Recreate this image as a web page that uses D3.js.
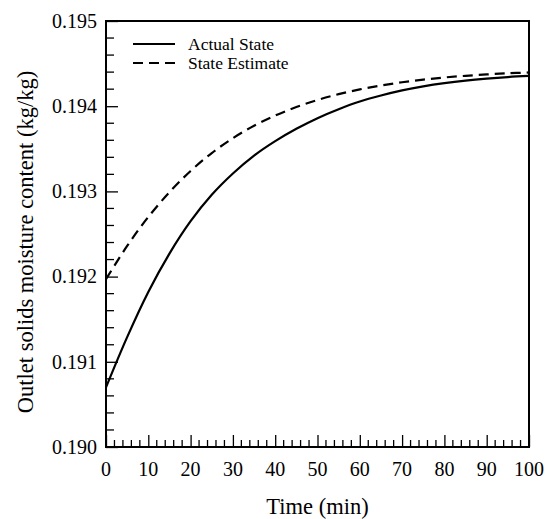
<!DOCTYPE html>
<html>
<head>
<meta charset="utf-8">
<script src="https://cdn.jsdelivr.net/npm/d3@7"></script>
<style>
  body { margin: 0; background: #fff; }
  svg { display: block; }
  text { font-family: 'Liberation Serif', 'Times New Roman', serif; fill: #000; }
</style>
</head>
<body>
<svg id="chart" width="552" height="519"></svg>
<script>
'use strict';

// time (min)
var times = [0, 5, 10, 15, 20, 25, 30, 35, 40, 45, 50, 55, 60, 65, 70, 75, 80, 85, 90, 95, 100];
// outlet solids moisture content (kg/kg)
var actualState = [0.19070, 0.19129, 0.19182, 0.19227, 0.19265, 0.19296, 0.19321, 0.19342, 0.19359, 0.193735,
  0.19386, 0.193965, 0.194055, 0.194125, 0.194185, 0.194233, 0.194271, 0.194301, 0.194324, 0.194342, 0.194355];
var stateEstimate = [0.19197, 0.19236, 0.19270, 0.19299, 0.19324, 0.19345, 0.193625, 0.19377, 0.19389, 0.19399,
  0.194073, 0.194141, 0.194197, 0.194243, 0.194281, 0.194312, 0.194337, 0.194357, 0.194373, 0.194386, 0.194396];

var xTicks = [0, 10, 20, 30, 40, 50, 60, 70, 80, 90, 100];
var yTicks = [0.190, 0.191, 0.192, 0.193, 0.194, 0.195];
var legendLabels = ['Actual State', 'State Estimate'];

var plotLeft = 106, plotRight = 529, plotTop = 21, plotBottom = 447;
var svg = d3.select('#chart');

var x = d3.scaleLinear().domain([0, 100]).range([plotLeft, plotRight]);
var y = d3.scaleLinear().domain([0.190, 0.195]).range([plotBottom, plotTop]);

// minor ticks
var xMinor = d3.range(0, 101, 2).filter(function(d) { return d % 10 !== 0; });
var yMinor = d3.range(0, 26).map(function(i) { return 0.190 + i * 0.0002; })
  .filter(function(d, i) { return i % 5 !== 0; });

// axes: tick marks only, labels drawn below
var xAxis = d3.axisBottom(x).tickValues(xTicks).tickFormat('')
  .tickSizeInner(-12).tickSizeOuter(0);
var yAxis = d3.axisLeft(y).tickValues(yTicks).tickFormat('')
  .tickSizeInner(-12).tickSizeOuter(0);

var gx = svg.append('g').attr('transform', 'translate(0,' + plotBottom + ')').call(xAxis);
var gy = svg.append('g').attr('transform', 'translate(' + plotLeft + ',0)').call(yAxis);

[gx, gy].forEach(function(g) {
  g.select('.domain').remove();
  g.selectAll('text').remove();
  g.selectAll('line').attr('stroke', '#000').attr('stroke-width', 1.3);
});

var fmtY = d3.format('.3f');
svg.append('g').selectAll('text').data(yTicks).enter().append('text')
  .attr('x', plotLeft - 9)
  .attr('y', function(d) { return y(d); })
  .attr('dy', '0.34em')
  .attr('text-anchor', 'end')
  .attr('font-size', 20)
  .text(function(d) { return fmtY(d); });

svg.append('g').selectAll('text').data(xTicks).enter().append('text')
  .attr('x', function(d) { return x(d); })
  .attr('y', 476)
  .attr('text-anchor', 'middle')
  .attr('font-size', 20)
  .text(function(d) { return d; });

svg.append('g').selectAll('line').data(xMinor).enter().append('line')
  .attr('x1', function(d) { return x(d); })
  .attr('x2', function(d) { return x(d); })
  .attr('y1', plotBottom)
  .attr('y2', plotBottom - 7)
  .attr('stroke', '#000')
  .attr('stroke-width', 1.3);

svg.append('g').selectAll('line').data(yMinor).enter().append('line')
  .attr('x1', plotLeft)
  .attr('x2', plotLeft + 8)
  .attr('y1', function(d) { return y(d); })
  .attr('y2', function(d) { return y(d); })
  .attr('stroke', '#000')
  .attr('stroke-width', 1.3);

// frame
svg.append('rect')
  .attr('x', plotLeft)
  .attr('y', plotTop)
  .attr('width', plotRight - plotLeft)
  .attr('height', plotBottom - plotTop)
  .attr('fill', 'none')
  .attr('stroke', '#000')
  .attr('stroke-width', 2);

var line = d3.line()
  .x(function(d) { return x(d[0]); })
  .y(function(d) { return y(d[1]); })
  .curve(d3.curveCatmullRom.alpha(0.5));

svg.append('path')
  .datum(d3.zip(times, actualState))
  .attr('d', line)
  .attr('fill', 'none')
  .attr('stroke', '#000')
  .attr('stroke-width', 2.2);

svg.append('path')
  .datum(d3.zip(times, stateEstimate))
  .attr('d', line)
  .attr('fill', 'none')
  .attr('stroke', '#000')
  .attr('stroke-width', 2.2)
  .attr('stroke-dasharray', '10,6');

// legend
var legend = svg.append('g');
legendLabels.forEach(function(label, i) {
  var ly = 44 + i * 19;
  legend.append('line')
    .attr('x1', 133)
    .attr('x2', 175)
    .attr('y1', ly)
    .attr('y2', ly)
    .attr('stroke', '#000')
    .attr('stroke-width', 2)
    .attr('stroke-dasharray', i === 0 ? null : '10,6');
  legend.append('text')
    .attr('x', 188)
    .attr('y', ly + 5.5)
    .attr('font-size', 17.5)
    .text(label);
});

// axis titles
svg.append('text')
  .attr('x', (plotLeft + plotRight) / 2)
  .attr('y', 514)
  .attr('text-anchor', 'middle')
  .attr('font-size', 22.5)
  .text('Time (min)');

svg.append('text')
  .attr('transform', 'translate(33,242) rotate(-90)')
  .attr('text-anchor', 'middle')
  .attr('font-size', 22.5)
  .text('Outlet solids moisture content (kg/kg)');
</script>
</body>
</html>
